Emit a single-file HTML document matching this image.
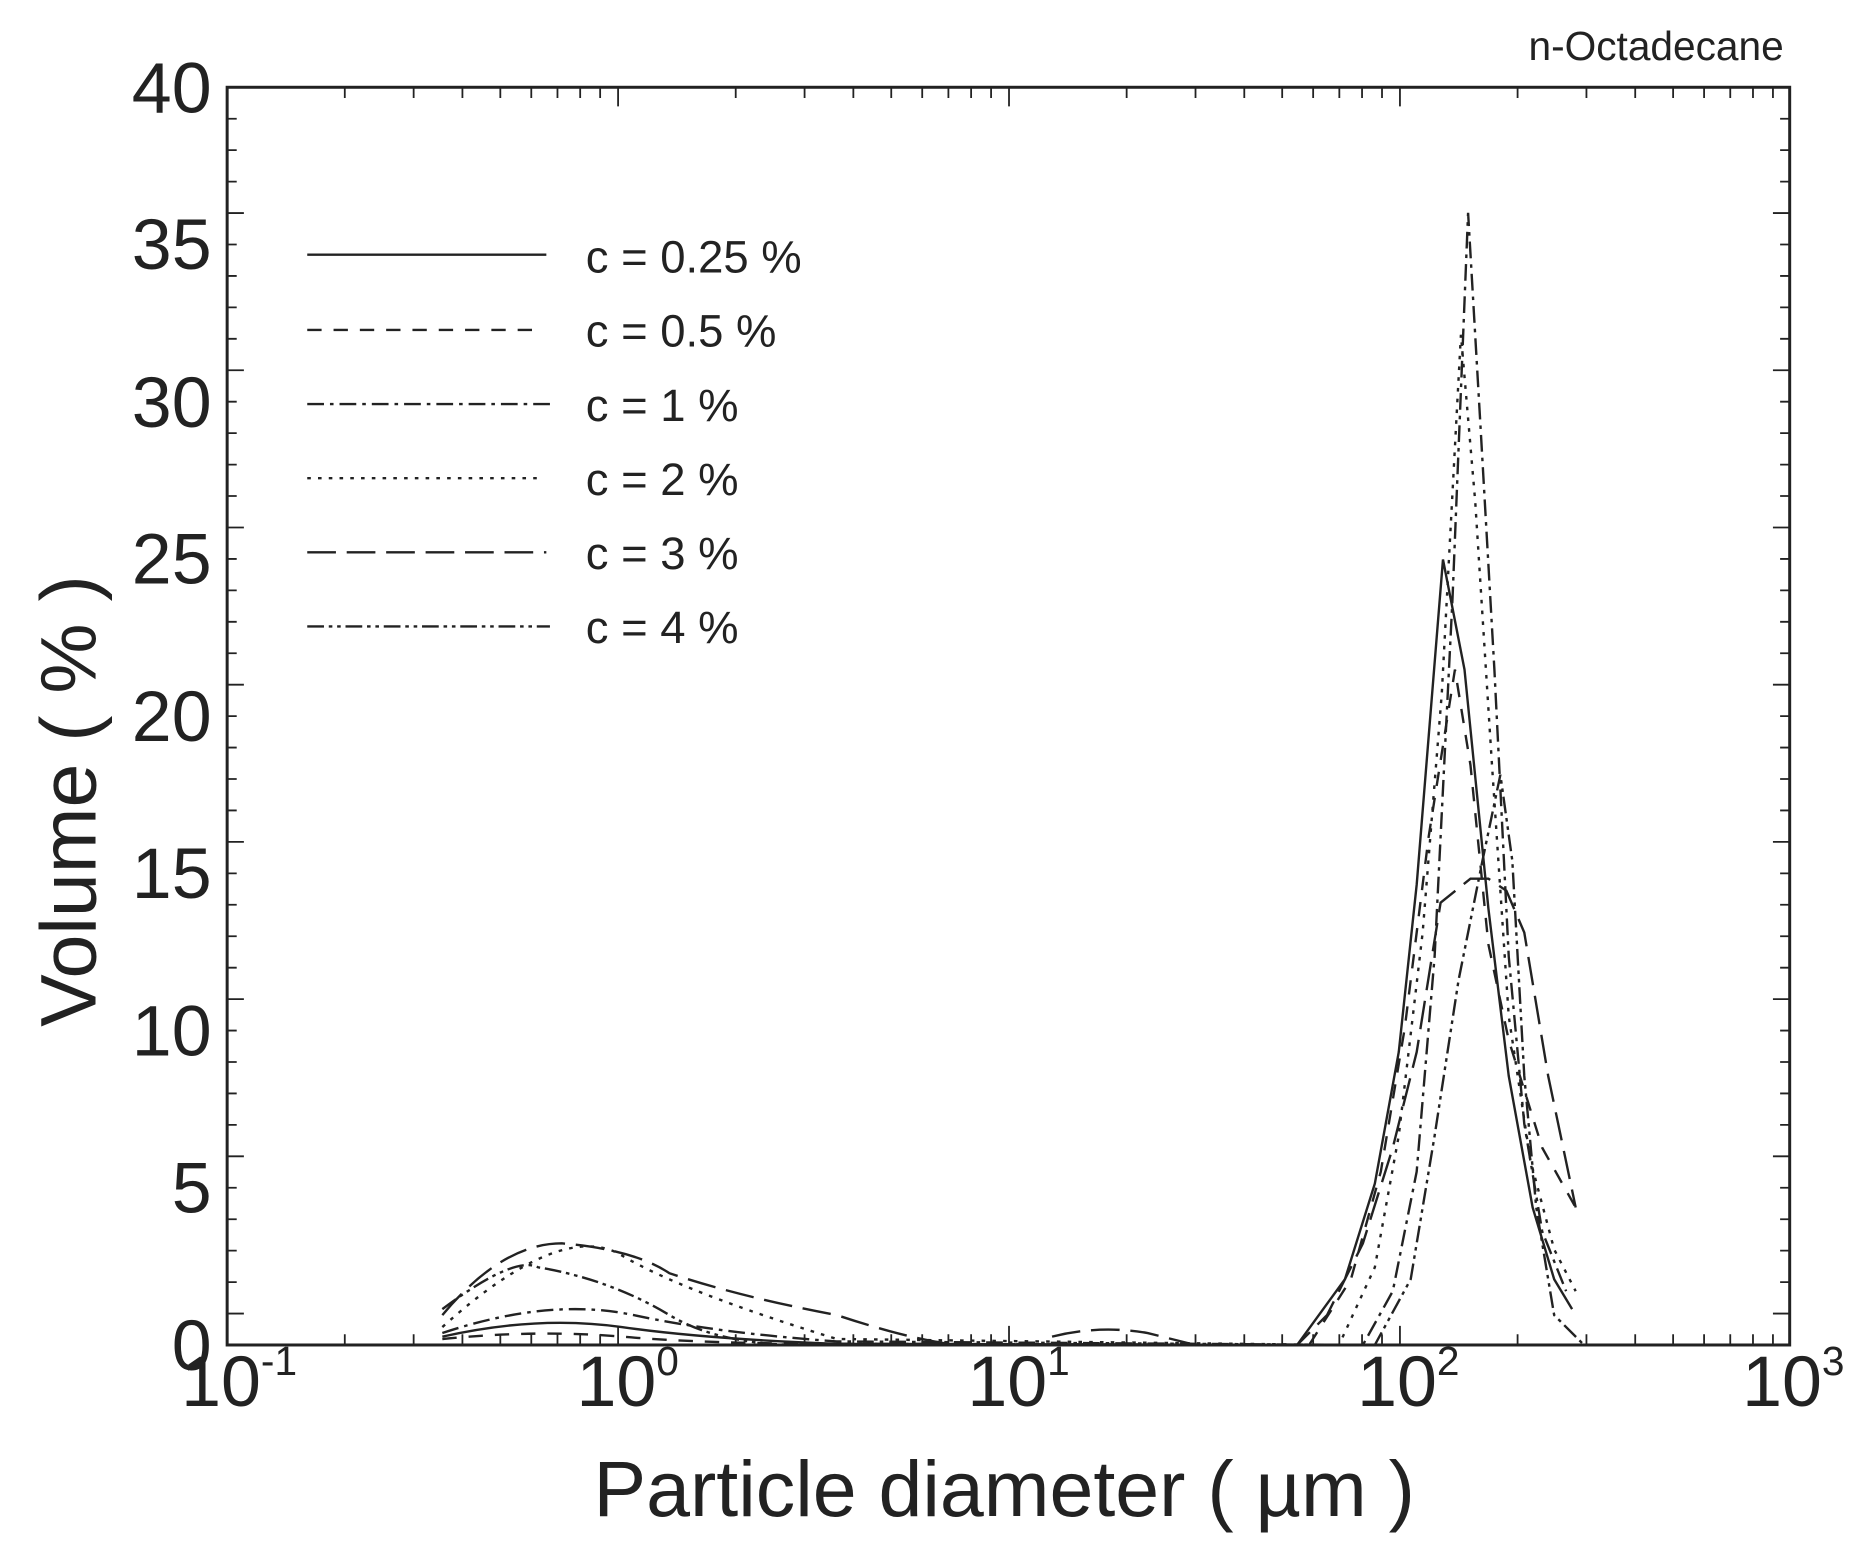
<!DOCTYPE html>
<html><head><meta charset="utf-8"><style>
html,body{margin:0;padding:0;background:#fff;}
svg{display:block;}
text{font-family:"Liberation Sans",sans-serif;fill:#222;}
</style></head><body>
<svg width="1865" height="1556" viewBox="0 0 1560 1301.5" preserveAspectRatio="none" xmlns="http://www.w3.org/2000/svg">
<rect x="190" y="73" width="1307" height="1052" fill="none" stroke="#222" stroke-width="2.5"/>
<g stroke="#222" stroke-width="1.5">
<path d="
M190 99.3h8M190 125.6h8M190 151.9h8M190 178.2h14M190 204.5h8M190 230.8h8M190 257.1h8M190 283.4h8M190 309.7h14M190 336h8M190 362.3h8M190 388.6h8M190 414.9h8M190 441.2h14M190 467.5h8M190 493.8h8M190 520.1h8M190 546.4h8M190 572.7h14M190 599h8M190 625.3h8M190 651.6h8M190 677.9h8M190 704.2h14M190 730.5h8M190 756.8h8M190 783.1h8M190 809.4h8M190 835.7h14M190 862h8M190 888.3h8M190 914.6h8M190 940.9h8M190 967.2h14M190 993.5h8M190 1019.8h8M190 1046.1h8M190 1072.4h8M190 1098.7h14
M1497 99.3h-8M1497 125.6h-8M1497 151.9h-8M1497 178.2h-14M1497 204.5h-8M1497 230.8h-8M1497 257.1h-8M1497 283.4h-8M1497 309.7h-14M1497 336h-8M1497 362.3h-8M1497 388.6h-8M1497 414.9h-8M1497 441.2h-14M1497 467.5h-8M1497 493.8h-8M1497 520.1h-8M1497 546.4h-8M1497 572.7h-14M1497 599h-8M1497 625.3h-8M1497 651.6h-8M1497 677.9h-8M1497 704.2h-14M1497 730.5h-8M1497 756.8h-8M1497 783.1h-8M1497 809.4h-8M1497 835.7h-14M1497 862h-8M1497 888.3h-8M1497 914.6h-8M1497 940.9h-8M1497 967.2h-14M1497 993.5h-8M1497 1019.8h-8M1497 1046.1h-8M1497 1072.4h-8M1497 1098.7h-14
"/>
<path d="
M288.4 1125v-9M346 1125v-9M386.8 1125v-9M418.5 1125v-9M444.4 1125v-9M466.3 1125v-9M485.3 1125v-9M502 1125v-9M517 1125v-16
M615.4 1125v-9M673 1125v-9M713.8 1125v-9M745.5 1125v-9M771.4 1125v-9M793.3 1125v-9M812.3 1125v-9M829 1125v-9M844 1125v-16
M942.4 1125v-9M1000 1125v-9M1040.8 1125v-9M1072.5 1125v-9M1098.4 1125v-9M1120.3 1125v-9M1139.3 1125v-9M1156 1125v-9M1171 1125v-16
M1269.4 1125v-9M1327 1125v-9M1367.8 1125v-9M1399.5 1125v-9M1425.4 1125v-9M1447.3 1125v-9M1466.3 1125v-9M1483 1125v-9
M288.4 73v9M346 73v9M386.8 73v9M418.5 73v9M444.4 73v9M466.3 73v9M485.3 73v9M502 73v9M517 73v16
M615.4 73v9M673 73v9M713.8 73v9M745.5 73v9M771.4 73v9M793.3 73v9M812.3 73v9M829 73v9M844 73v16
M942.4 73v9M1000 73v9M1040.8 73v9M1072.5 73v9M1098.4 73v9M1120.3 73v9M1139.3 73v9M1156 73v9M1171 73v16
M1269.4 73v9M1327 73v9M1367.8 73v9M1399.5 73v9M1425.4 73v9M1447.3 73v9M1466.3 73v9M1483 73v9"/>
</g>
<g font-size="60" text-anchor="end">
<text x="177" y="94">40</text><text x="177" y="225">35</text><text x="177" y="357">30</text><text x="177" y="488">25</text><text x="177" y="620">20</text><text x="177" y="751">15</text><text x="177" y="883">10</text><text x="177" y="1014">5</text><text x="177" y="1146">0</text>
</g>
<g font-size="60" text-anchor="middle">
<text x="200" y="1176">10<tspan font-size="34" dy="-26">-1</tspan></text>
<text x="525" y="1176">10<tspan font-size="34" dy="-26">0</tspan></text>
<text x="852" y="1176">10<tspan font-size="34" dy="-26">1</tspan></text>
<text x="1178" y="1176">10<tspan font-size="34" dy="-26">2</tspan></text>
<text x="1500" y="1176">10<tspan font-size="34" dy="-26">3</tspan></text>
</g>
<text x="840" y="1268" font-size="66" text-anchor="middle">Particle diameter ( µm )</text>
<text transform="translate(80,670) rotate(-90)" font-size="66" text-anchor="middle">Volume ( % )</text>
<text x="1492" y="50" font-size="34" text-anchor="end">n-Octadecane</text>
<g font-size="38">
<text x="490" y="228">c = 0.25 %</text><text x="490" y="290">c = 0.5 %</text><text x="490" y="352">c = 1 %</text><text x="490" y="414">c = 2 %</text><text x="490" y="476">c = 3 %</text><text x="490" y="538">c = 4 %</text>
</g>
<g fill="none" stroke="#222" stroke-width="2">
<path d="M257 213H457"/>
<path d="M257 276H445" stroke-dasharray="12,10"/>
<path d="M257 338H460" stroke-dasharray="14,5,3,5"/>
<path d="M257 400H455" stroke-dasharray="3,6"/>
<path d="M257 462H457" stroke-dasharray="24,9"/>
<path d="M257 524H460" stroke-dasharray="14,4,3,4,3,4"/>
<path d="M370 1118 Q450 1100 520 1110 T700 1124 L1085 1125 L1125 1070 L1150 990 L1170 880 L1185 740 L1207 468 L1225 560 L1245 760 L1262 900 L1282 1010 L1300 1070 L1315 1095"/>
<path d="M370 1120 Q450 1112 520 1118 T700 1124 L1095 1125 L1130 1070 L1155 980 L1175 860 L1195 700 L1217 560 L1230 640 L1245 790 L1262 870 L1290 960 L1318 1010" stroke-dasharray="12,10"/>
<path d="M370 1115 Q460 1085 530 1100 T700 1122 L1140 1125 L1165 1080 L1185 980 L1200 800 L1215 500 L1228 178 L1238 350 L1250 560 L1262 800 L1275 940 L1290 1030 L1310 1080" stroke-dasharray="14,5,3,5"/>
<path d="M370 1110 Q470 1020 520 1050 T700 1120 L1120 1125 L1150 1060 L1170 950 L1190 780 L1206 580 L1222 280 L1234 420 L1248 640 L1262 850 L1280 970 L1300 1045 L1318 1080" stroke-dasharray="3,6"/>
<path d="M370 1100 Q420 1040 470 1040 Q530 1045 560 1065 Q620 1085 700 1100 Q760 1120 800 1125 M880 1118 Q920 1108 960 1115 L1000 1125 L1085 1125 L1110 1100 L1140 1040 L1165 960 L1185 880 L1205 755 L1230 735 L1245 735 L1260 745 L1275 780 L1295 900 L1318 1010" stroke-dasharray="24,9"/>
<path d="M370 1095 Q430 1050 450 1060 Q510 1070 560 1100 T700 1124 L1150 1125 L1180 1070 L1200 950 L1220 820 L1240 720 L1255 648 L1265 720 L1275 900 L1285 1010 L1300 1100 L1325 1125" stroke-dasharray="14,4,3,4,3,4"/>
</g>
</svg>
</body></html>
